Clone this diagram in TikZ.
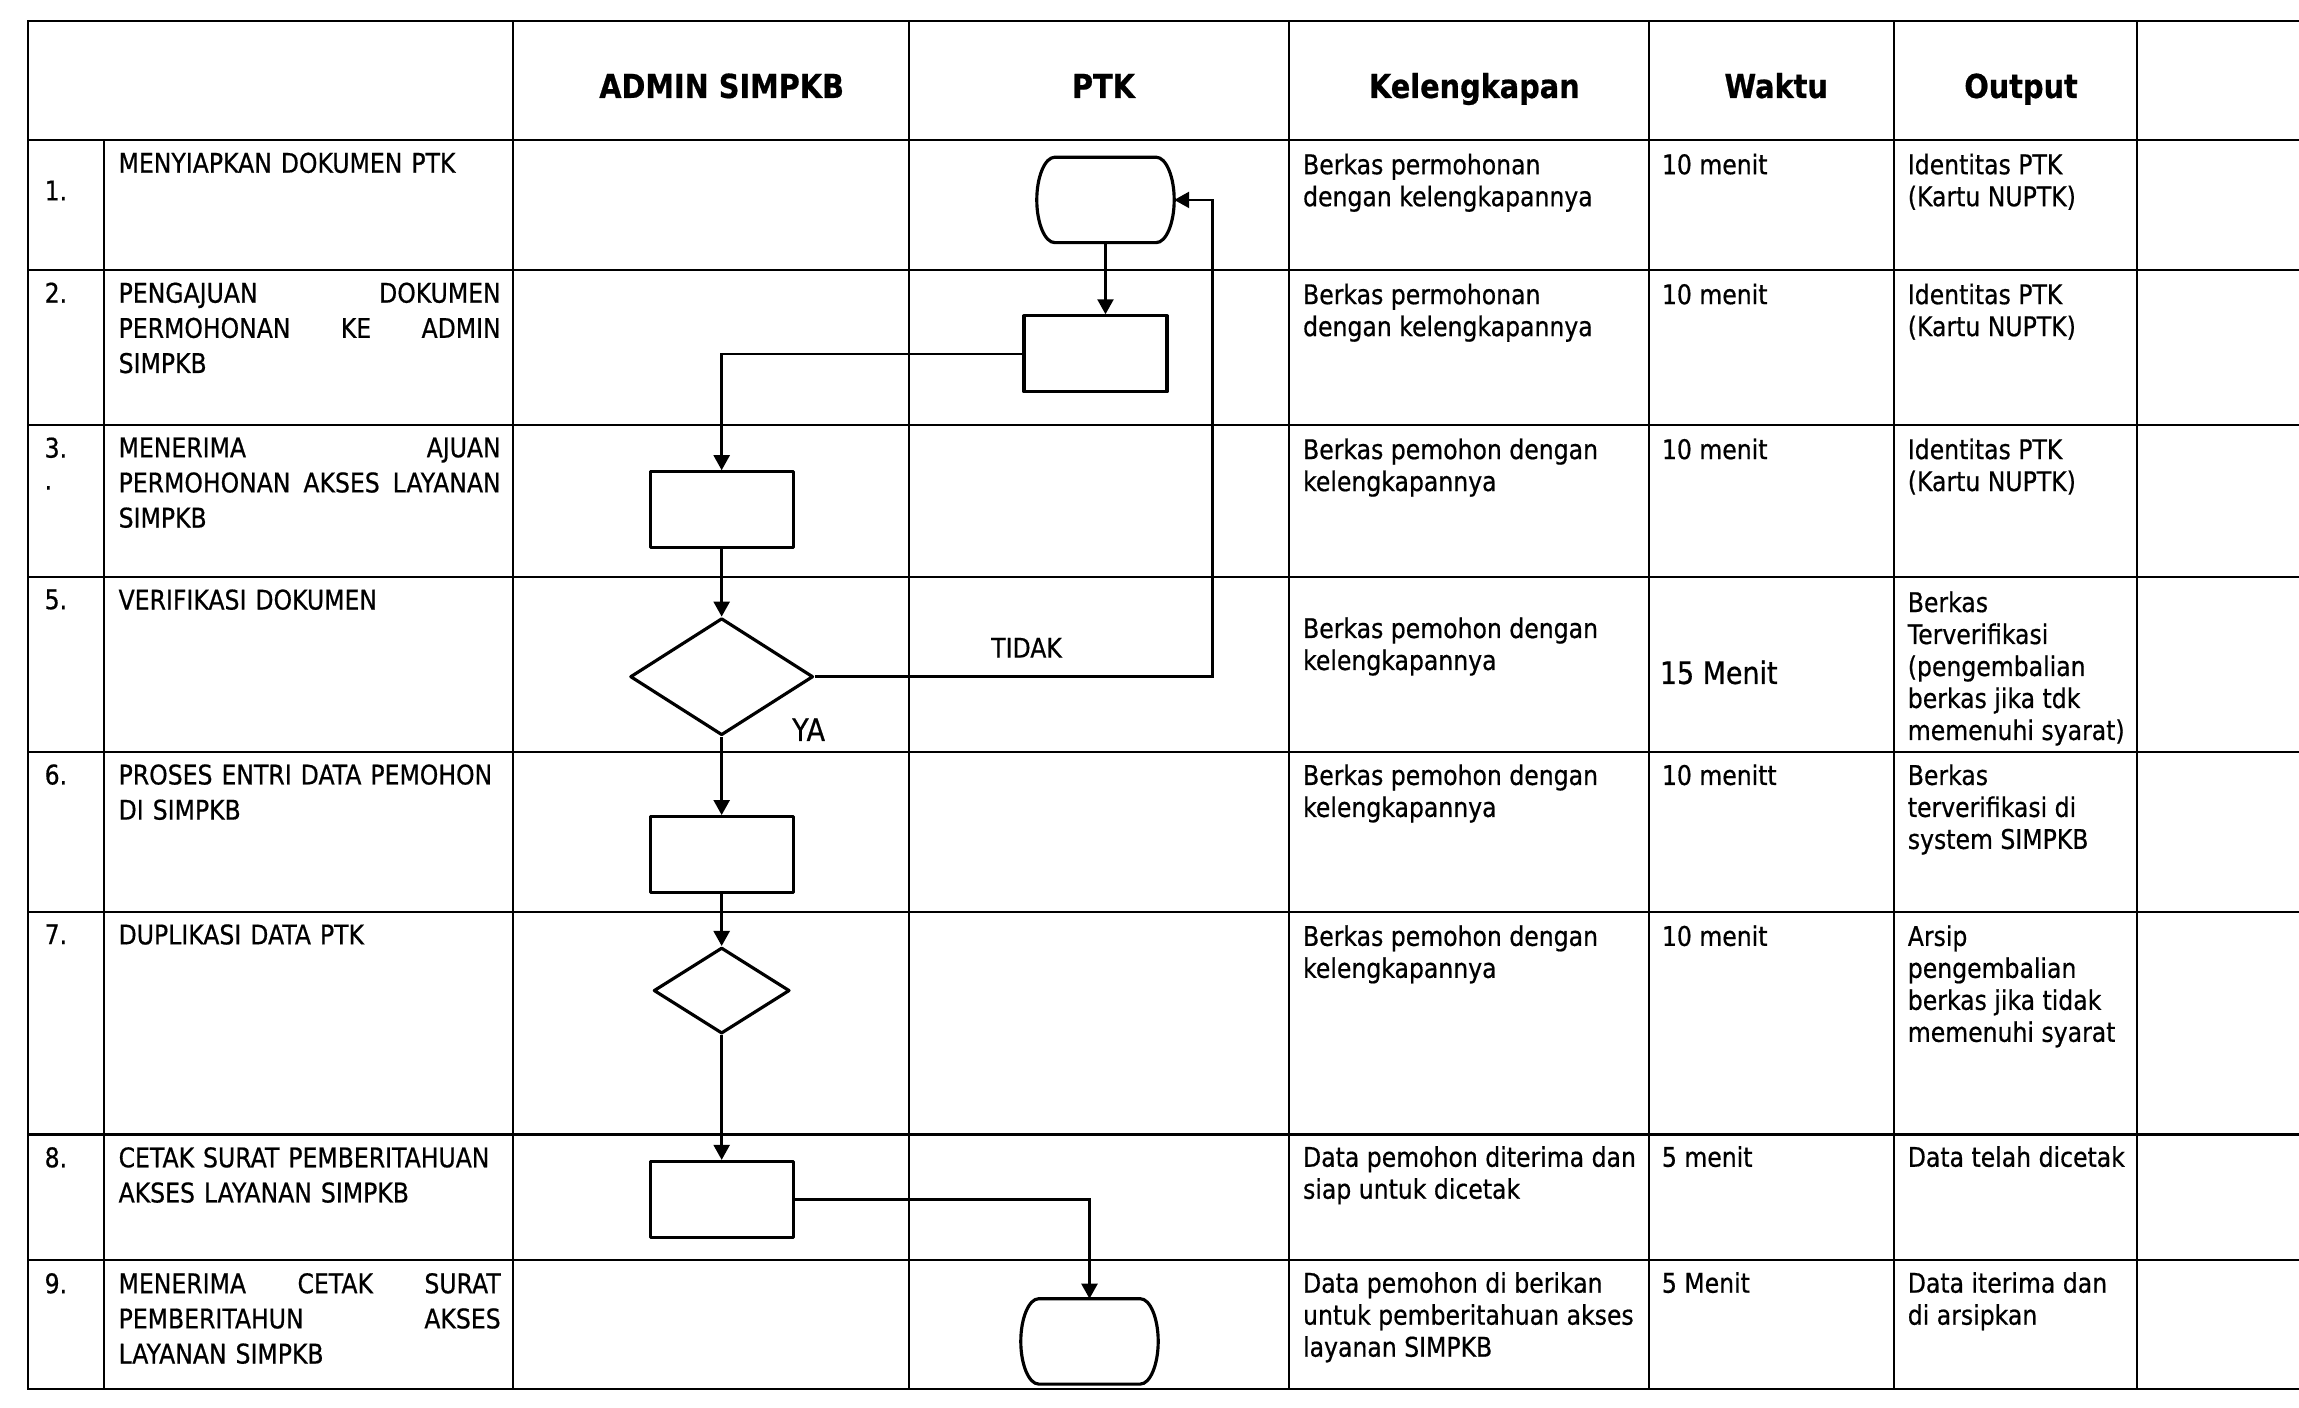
\documentclass[tikz,border=0pt]{standalone}
\usepackage{fontspec}
\setmainfont[FakeStretch=0.87, FakeBold=0.6]{DejaVu Sans}
\usetikzlibrary{arrows.meta,shapes.geometric}

\newcommand{\fbody}{\fontsize{7.7}{9.1}\selectfont}
\newcommand{\fdesc}{\fontsize{7.7}{10}\selectfont}
\newcommand{\fhead}{\fontsize{9.4}{11}\selectfont\bfseries}
\newcommand{\fbig}{\fontsize{8.8}{10}\selectfont}

% outline of a terminal symbol round a named node
\newcommand{\termshape}[1]{%
  \draw[shp] ([xshift=1.8mm]#1.north west) -- ([xshift=-1.8mm]#1.north east)
    .. controls ([xshift=-0.8mm]#1.north east) and ([yshift=2.3mm]#1.east) .. (#1.east)
    .. controls ([yshift=-2.3mm]#1.east) and ([xshift=-0.8mm]#1.south east) .. ([xshift=-1.8mm]#1.south east)
    -- ([xshift=1.8mm]#1.south west)
    .. controls ([xshift=0.8mm]#1.south west) and ([yshift=-2.3mm]#1.west) .. (#1.west)
    .. controls ([yshift=2.3mm]#1.west) and ([xshift=0.8mm]#1.north west) .. ([xshift=1.8mm]#1.north west)
    -- cycle;}

\begin{document}
\begin{tikzpicture}[x=0.01cm, y=-0.01cm,
	tabline/.style={line width=0.6pt, line cap=rect},
	shp/.style={line width=0.9pt, line join=round},
	flow/.style={line width=0.7pt, -{Triangle[length=1.5mm, width=1.6mm]}},
	procbox/.style={shp, draw, rectangle, minimum width=1.43cm, minimum height=0.76cm, inner sep=0pt},
	termbox/.style={rectangle, minimum width=1.36cm, minimum height=0.84cm, inner sep=0pt},
	decision/.style={shp, draw, diamond, inner sep=0pt},
	head/.style={anchor=base, inner sep=0pt, font=\fhead},
	num/.style={anchor=north west, inner sep=0pt, align=left, font=\fbody},
	desc/.style={anchor=north west, inner sep=0pt, text width=3.82cm, align=left, font=\fdesc},
	cell/.style={anchor=north west, inner sep=0pt, align=left, font=\fbody},
	lbl/.style={inner sep=0pt, font=\fbody}]
	\fill[white] (0,0) rectangle (2299,1408);
	% table frame
	\foreach \y in {21,140,270,425,577,752,912,1135,1261,1390}
		\draw[tabline] (28,\y) -- (2299,\y);
	\foreach \x in {28,513,909,1290,1650,1895,2138}
		\draw[tabline] (\x,21) -- (\x,1390);
	\draw[tabline] (104,140) -- (104,1390);
	% headings
	\node[head] (hadmin) at (722,98) {ADMIN SIMPKB};
	\node[head] (hptk) at (1104,98) {PTK};
	\node[head] (hkel) at (1475,98) {Kelengkapan};
	\node[head] (hwaktu) at (1777,98) {Waktu};
	\node[head] (hout) at (2022,98) {Output};
	% step numbers
	\node[num] (no1) at (44,180) {1.};
	\node[num] (no2) at (44,282) {2.};
	\node[num] (no3) at (44,437) {3.\\.};
	\node[num] (no5) at (44,589) {5.};
	\node[num] (no6) at (44,764) {6.};
	\node[num] (no7) at (44,924) {7.};
	\node[num] (no8) at (44,1147) {8.};
	\node[num] (no9) at (44,1273) {9.};
	% activities
	\node[desc] (ket1) at (118,152) {MENYIAPKAN DOKUMEN PTK};
	\node[desc] (ket2) at (118,282) {PENGAJUAN\hfill DOKUMEN\\PERMOHONAN\hfill KE\hfill ADMIN\\SIMPKB};
	\node[desc] (ket3) at (118,437) {MENERIMA\hfill AJUAN\\PERMOHONAN\hfill AKSES\hfill LAYANAN\\SIMPKB};
	\node[desc] (ket5) at (118,589) {VERIFIKASI DOKUMEN};
	\node[desc] (ket6) at (118,764) {PROSES ENTRI DATA PEMOHON\\DI SIMPKB};
	\node[desc] (ket7) at (118,924) {DUPLIKASI DATA PTK};
	\node[desc] (ket8) at (118,1147) {CETAK SURAT PEMBERITAHUAN\\AKSES LAYANAN SIMPKB};
	\node[desc] (ket9) at (118,1273) {MENERIMA\hfill CETAK\hfill SURAT\\PEMBERITAHUN\hfill AKSES\\LAYANAN SIMPKB};
	% kelengkapan
	\node[cell] (kel1) at (1303,153) {Berkas permohonan\\dengan kelengkapannya};
	\node[cell] (kel2) at (1303,283) {Berkas permohonan\\dengan kelengkapannya};
	\node[cell] (kel3) at (1303,438) {Berkas pemohon dengan\\kelengkapannya};
	\node[cell] (kel5) at (1303,617) {Berkas pemohon dengan\\kelengkapannya};
	\node[cell] (kel6) at (1303,764) {Berkas pemohon dengan\\kelengkapannya};
	\node[cell] (kel7) at (1303,925) {Berkas pemohon dengan\\kelengkapannya};
	\node[cell] (kel8) at (1303,1146) {Data pemohon diterima dan\\siap untuk dicetak};
	\node[cell] (kel9) at (1303,1272) {Data pemohon di berikan\\untuk pemberitahuan akses\\layanan SIMPKB};
	% waktu
	\node[cell] (wkt1) at (1662,153) {10 menit};
	\node[cell] (wkt2) at (1662,283) {10 menit};
	\node[cell] (wkt3) at (1662,438) {10 menit};
	\node[cell, font=\fbig] (wkt5) at (1660,660) {15 Menit};
	\node[cell] (wkt6) at (1662,764) {10 menitt};
	\node[cell] (wkt7) at (1662,925) {10 menit};
	\node[cell] (wkt8) at (1662,1146) {5 menit};
	\node[cell] (wkt9) at (1662,1272) {5 Menit};
	% output
	\node[cell] (out1) at (1908,153) {Identitas PTK\\(Kartu NUPTK)};
	\node[cell] (out2) at (1908,283) {Identitas PTK\\(Kartu NUPTK)};
	\node[cell] (out3) at (1908,438) {Identitas PTK\\(Kartu NUPTK)};
	\node[cell] (out5) at (1908,591) {Berkas\\Terverifikasi\\(pengembalian\\berkas jika tdk\\memenuhi syarat)};
	\node[cell] (out6) at (1908,764) {Berkas\\terverifikasi di\\system SIMPKB};
	\node[cell] (out7) at (1908,925) {Arsip\\pengembalian\\berkas jika tidak\\memenuhi syarat};
	\node[cell] (out8) at (1908,1146) {Data telah dicetak};
	\node[cell] (out9) at (1908,1272) {Data iterima dan\\di arsipkan};
	% flow symbols
	\node[termbox] (mulai) at (1106,200) {};
	\termshape{mulai}
	\node[procbox] (ajuan) at (1096,354) {};
	\node[procbox] (terima) at (722,510) {};
	\node[decision, minimum width=1.83cm, minimum height=1.17cm] (verif) at (722,677) {};
	\node[procbox] (entri) at (722,855) {};
	\node[decision, minimum width=1.36cm, minimum height=0.86cm] (dupl) at (722,991) {};
	\node[procbox] (cetak) at (722,1200) {};
	\node[termbox] (selesai) at (1090,1342) {};
	\termshape{selesai}
	\coordinate (balik) at (1213,200);
	% connectors
	\draw[flow] (mulai.south) -- (mulai.south |- ajuan.north);
	\draw[flow] (ajuan.west) -| (terima.north);
	\draw[flow] (terima.south) -- (verif.north);
	\draw[flow] (verif.south) -- (entri.north);
	\draw[flow] (entri.south) -- (dupl.north);
	\draw[flow] (dupl.south) -- (cetak.north);
	\draw[flow] (cetak.east) -| (selesai.north);
	\draw[flow] (verif.east) -| (balik) -- (mulai.east);
	\node[lbl] (tidak) at (1027,648) {TIDAK};
	\node[lbl, font=\fbig] (ya) at (809,730) {YA};
\end{tikzpicture}
\end{document}
